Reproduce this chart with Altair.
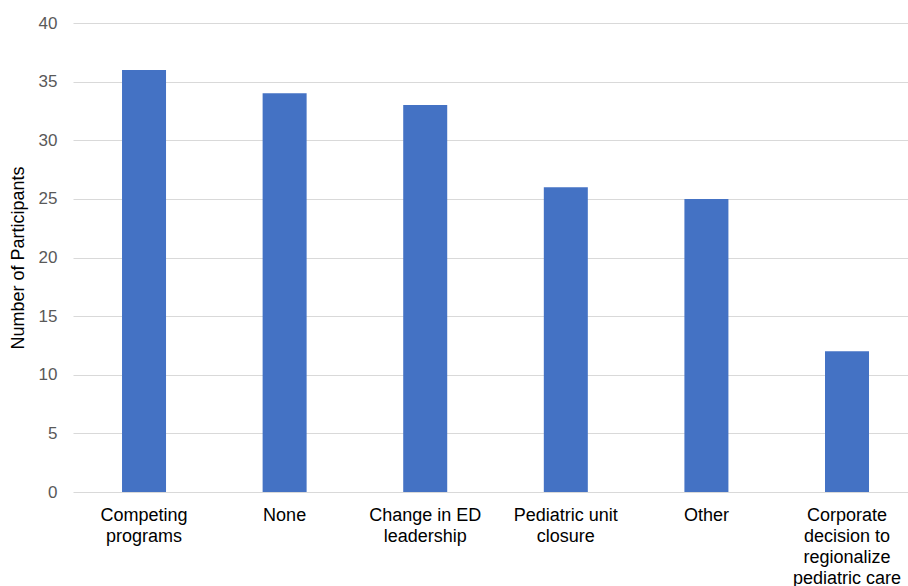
import altair as alt
import pandas as pd

categories = [
    "Competing|programs",
    "None",
    "Change in ED|leadership",
    "Pediatric unit|closure",
    "Other",
    "Corporate|decision to|regionalize|pediatric care",
]
participants = [36, 34, 33, 26, 25, 12]

df = pd.DataFrame({"category": categories, "participants": participants})

chart = (
    alt.Chart(df)
    .mark_bar(color="#4472C4")
    .encode(
        x=alt.X(
            "category:N",
            sort=None,
            title=None,
            scale=alt.Scale(paddingInner=0.687, paddingOuter=0.313, align=0.557),
            axis=alt.Axis(
                labelExpr="split(datum.label, '|')",
                labelAngle=0,
                labelFont="Liberation Sans",
                labelFontSize=18,
                labelLineHeight=21,
                labelColor="#000000",
                labelPadding=14,
                ticks=False,
                domain=False,
                grid=False,
            ),
        ),
        y=alt.Y(
            "participants:Q",
            title="Number of Participants",
            scale=alt.Scale(domain=[0, 40]),
            axis=alt.Axis(
                values=[0, 5, 10, 15, 20, 25, 30, 35, 40],
                labelFont="Liberation Sans",
                labelFontSize=17,
                labelColor="#595959",
                labelPadding=16,
                ticks=False,
                domain=False,
                gridColor="#d9d9d9",
                gridWidth=1,
                titleFont="Liberation Sans",
                titleFontSize=18,
                titleFontWeight="normal",
                titleColor="#000000",
                titleX=-55,
                titleY=234.5,
                titleBaseline="middle",
                titleAlign="center",
            ),
        ),
    )
    .properties(
        width=835,
        height=469,
        background="white",
        autosize=alt.AutoSizeParams(type="none"),
        padding={"left": 73, "top": 23, "right": 0, "bottom": 94},
    )
    .configure_view(stroke=None, strokeWidth=0)
)

chart.save("out.html", embed_options={"renderer": "svg", "actions": False})
